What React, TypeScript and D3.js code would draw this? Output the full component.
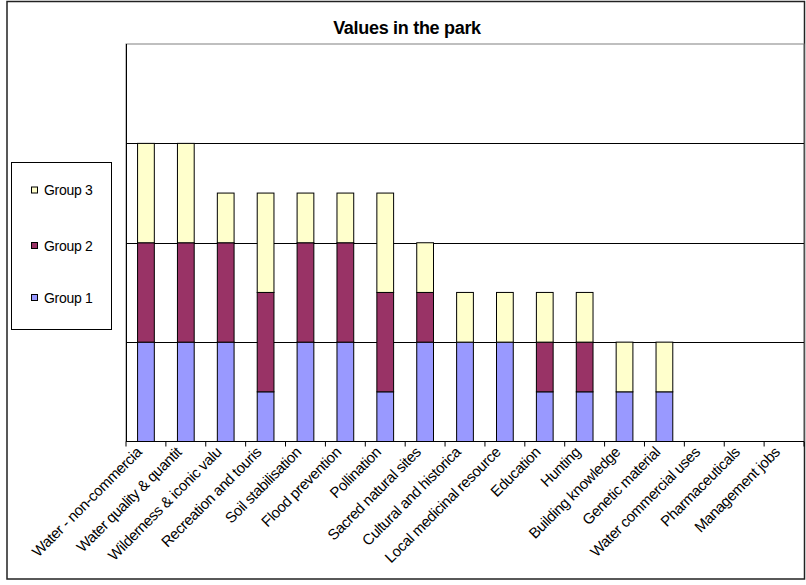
import React, { useEffect, useRef } from 'react';
import * as d3 from 'd3';

const categories = [
  'Water - non-commercia',
  'Water quality & quantit',
  'Wilderness & iconic valu',
  'Recreation and touris',
  'Soil stabilisation',
  'Flood prevention',
  'Pollination',
  'Sacred natural sites',
  'Cultural and historica',
  'Local medicinal resource',
  'Education',
  'Hunting',
  'Building knowledge',
  'Genetic material',
  'Water commercial uses',
  'Pharmaceuticals',
  'Management jobs',
];

const group1 = [1, 1, 1, 0.5, 1, 1, 0.5, 1, 1, 1, 0.5, 0.5, 0.5, 0.5, 0, 0, 0];
const group2 = [1, 1, 1, 1, 1, 1, 1, 0.5, 0, 0, 0.5, 0.5, 0, 0, 0, 0, 0];
const group3 = [1, 1, 0.5, 1, 0.5, 0.5, 1, 0.5, 0.5, 0.5, 0.5, 0.5, 0.5, 0.5, 0, 0, 0];

const seriesNames = ['Group 1', 'Group 2', 'Group 3'];
const seriesColors = ['#9999FF', '#993366', '#FFFFCC'];
const gridValues = [1, 2, 3];

const W = 806;
const H = 585;

const App: React.FC = () => {
  const svgRef = useRef<SVGSVGElement>(null);

  useEffect(() => {
    if (!svgRef.current) return;
    const svg = d3.select(svgRef.current);
    svg.selectAll('*').remove();

    const left = 126, right = 804, top = 44, bottom = 441.5;
    const font = 'Arial, "Liberation Sans", sans-serif';

    // outer frame
    svg.append('rect')
      .attr('x', 7).attr('y', 1.5).attr('width', 797.5).attr('height', 577.5)
      .attr('fill', '#fff').attr('stroke', '#222').attr('stroke-width', 1.5);

    const x = d3.scaleBand<string>().domain(categories).range([left, right]).padding(0);
    const y = d3.scaleLinear().domain([0, 4]).range([bottom, top]);

    // plot border
    svg.append('rect')
      .attr('x', left).attr('y', top).attr('width', right - left).attr('height', bottom - top)
      .attr('fill', 'none').attr('stroke', '#808080').attr('stroke-width', 1);

    svg.append('g').selectAll('line').data(gridValues).join('line')
      .attr('x1', left).attr('x2', right)
      .attr('y1', d => Math.round(y(d)) + 0.5).attr('y2', d => Math.round(y(d)) + 0.5)
      .attr('stroke', '#000').attr('stroke-width', 1);

    const rows = categories.map((c, i) => ({ cat: c, g1: group1[i], g2: group2[i], g3: group3[i] }));
    const stack = d3.stack<any>().keys(['g1', 'g2', 'g3']);
    const layers = stack(rows);

    const barW = x.bandwidth() * 0.42;
    layers.forEach((layer, li) => {
      svg.append('g').selectAll('rect')
        .data(layer.filter(d => d[1] - d[0] > 0))
        .join('rect')
        .attr('x', d => (x(d.data.cat) as number) + (x.bandwidth() - barW) / 2)
        .attr('y', d => y(d[1]))
        .attr('width', barW)
        .attr('height', d => y(d[0]) - y(d[1]))
        .attr('fill', seriesColors[li])
        .attr('stroke', '#000')
        .attr('stroke-width', 1);
    });

    // axes
    svg.append('line').attr('x1', left + 0.5).attr('x2', left + 0.5).attr('y1', top).attr('y2', bottom)
      .attr('stroke', '#000');
    svg.append('line').attr('x1', left).attr('x2', right).attr('y1', bottom).attr('y2', bottom).attr('stroke', '#000');
    const ticks = categories.map((c, i) => left + i * x.step()).concat([right]);
    svg.append('g').selectAll('line').data(ticks).join('line')
      .attr('x1', d => d).attr('x2', d => d).attr('y1', bottom).attr('y2', bottom + 5)
      .attr('stroke', '#000');

    svg.append('g').selectAll('text').data(categories).join('text')
      .attr('transform', d => `translate(${(x(d) as number) + x.bandwidth() / 2 - 7},${bottom + 8}) rotate(-45)`)
      .attr('text-anchor', 'end')
      .attr('dy', '0.35em')
      .attr('font-family', font)
      .attr('font-size', 15)
      .attr('letter-spacing', -0.4)
      .attr('fill', '#000')
      .text(d => d);

    // title
    svg.append('text')
      .attr('x', 407).attr('y', 34)
      .attr('text-anchor', 'middle')
      .attr('font-family', font)
      .attr('font-size', 18)
      .attr('font-weight', 'bold')
      .attr('letter-spacing', -0.3)
      .text('Values in the park');

    // legend
    const lg = svg.append('g');
    lg.append('rect').attr('x', 11.5).attr('y', 162.5).attr('width', 100).attr('height', 167)
      .attr('fill', '#fff').attr('stroke', '#000');
    const legendY = [298, 246, 190.5];
    seriesNames.forEach((name, i) => {
      lg.append('rect').attr('x', 31.5).attr('y', legendY[i] - 3.5).attr('width', 6).attr('height', 6)
        .attr('fill', seriesColors[i]).attr('stroke', '#000');
      lg.append('text').attr('x', 44).attr('y', legendY[i]).attr('dy', '0.35em')
        .attr('font-family', font).attr('font-size', 14).attr('letter-spacing', -0.3)
        .text(name);
    });
  }, []);

  return (
    <svg ref={svgRef} width={W} height={H}
      style={{ position: 'absolute', left: 0, top: 0, background: '#fff' }} />
  );
};

export default App;
